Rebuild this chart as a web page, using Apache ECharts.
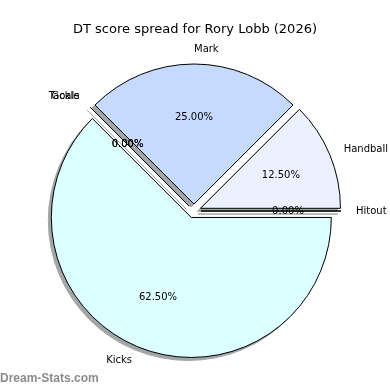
<!DOCTYPE html>
<html>
<head>
<meta charset="utf-8">
<script src="https://cdn.jsdelivr.net/npm/echarts@6/dist/echarts.min.js"></script>
<style>
html,body{margin:0;padding:0;background:#fff;}
#c{width:390px;height:390px;}
</style>
</head>
<body>
<div id="c"></div>
<script>
const categories = ['Hitout', 'Handball', 'Mark', 'Goals', 'Tackle', 'Kicks'];
const values = [0, 1, 2, 0, 0, 5];
const colors = ['#e6eeff', '#ebf1ff', '#c6d9ff', '#d0e0ff', '#d6e4ff', '#dcffff'];
const titleText = 'DT score spread for Rory Lobb (2026)';

const total = values.reduce((a, b) => a + b, 0);
const R = 140;
const OFF = 7;
const center = [194, 211];
const shadowCenter = [191, 214];

const chart = echarts.init(document.getElementById('c'), null, { renderer: 'canvas' });
chart.setOption({
  animation: false,
  backgroundColor: '#ffffff',
  title: {
    text: titleText, left: 'center', top: 18,
    textStyle: { fontFamily: 'DejaVu Sans', fontSize: 13, fontWeight: 'normal', color: '#000' }
  },
  graphic: [{
    type: 'text', left: 0, top: 373,
    style: { text: 'Dream-Stats.com', fontFamily: 'Liberation Sans', fontSize: 12, fontWeight: 'bold', fill: '#8c8c8c' }
  }],
  series: [
    {
      // shadow layer
      type: 'pie', center: shadowCenter, radius: [0, R],
      startAngle: 0, clockwise: false,
      selectedMode: 'multiple', selectedOffset: OFF,
      avoidLabelOverlap: false,
      silent: true, z: 1,
      itemStyle: { color: '#a2a6a6', borderColor: '#a2a6a6', borderWidth: 1 },
      select: { itemStyle: { color: '#a2a6a6', borderColor: '#a2a6a6', borderWidth: 1 } },
      label: { show: false },
      labelLine: { show: false },
      data: categories.map((n, i) => ({ name: n, value: values[i], selected: true }))
    },
    {
      type: 'pie', center: center, radius: [0, R],
      startAngle: 0, clockwise: false,
      selectedMode: 'multiple', selectedOffset: OFF,
      avoidLabelOverlap: false,
      silent: true, z: 2,
      itemStyle: { borderColor: '#000', borderWidth: 1 },
      select: { itemStyle: { borderColor: '#000', borderWidth: 1 } },
      label: {
        show: true, position: 'outside', formatter: '{b}',
        distanceToLabelLine: 0,
        fontFamily: 'DejaVu Sans', fontSize: 10, color: '#000'
      },
      labelLine: { show: false, length: 15, length2: 0 },
      labelLayout: { hideOverlap: false },
      data: categories.map((n, i) => ({
        name: n, value: values[i], selected: true,
        itemStyle: { color: colors[i] },
        select: { itemStyle: { color: colors[i] } }
      }))
    },
    {
      type: 'pie', center: center, radius: [0, R * 1.2],
      startAngle: 0, clockwise: false,
      selectedMode: 'multiple', selectedOffset: OFF,
      avoidLabelOverlap: false,
      silent: true, z: 5,
      itemStyle: { color: 'rgba(0,0,0,0)', borderWidth: 0 },
      select: { itemStyle: { color: 'rgba(0,0,0,0)', borderWidth: 0 } },
      label: {
        show: true, position: 'inside',
        formatter: p => (p.value / total * 100).toFixed(2) + '%',
        fontFamily: 'DejaVu Sans', fontSize: 10, color: '#000'
      },
      labelLine: { show: false },
      labelLayout: { hideOverlap: false },
      data: categories.map((n, i) => ({ name: n, value: values[i], selected: true }))
    }
  ]
});
</script>
</body>
</html>
